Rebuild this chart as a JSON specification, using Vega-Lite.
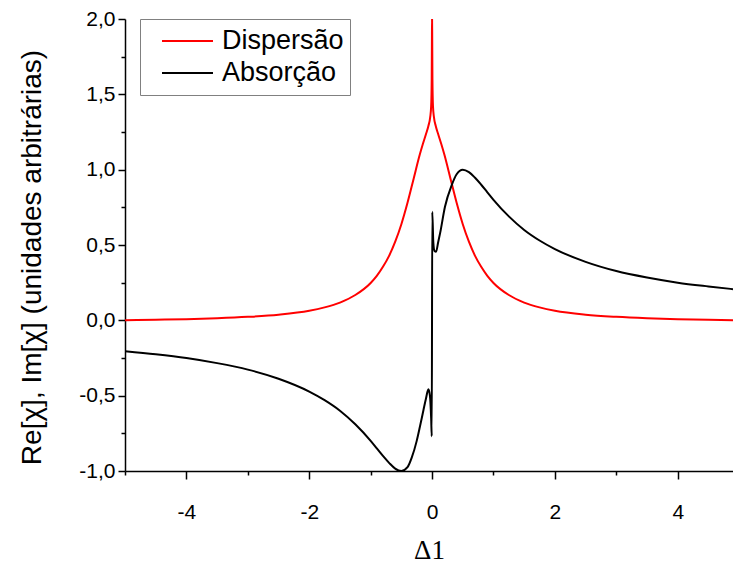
{
  "$schema": "https://vega.github.io/schema/vega-lite/v6.json",
  "width": 608,
  "height": 452,
  "autosize": {"type": "none"},
  "padding": {"left": 125, "top": 19, "right": 0, "bottom": 99},
  "background": "white",
  "config": {
    "view": {"stroke": null},
    "font": "Liberation Sans"
  },
  "data": {
    "values": [
      {"x": -5, "y": 0.001, "s": "Dispersão"},
      {"x": -4.5, "y": 0.004, "s": "Dispersão"},
      {"x": -4, "y": 0.008, "s": "Dispersão"},
      {"x": -3.5, "y": 0.014, "s": "Dispersão"},
      {"x": -3, "y": 0.023, "s": "Dispersão"},
      {"x": -2.5, "y": 0.037, "s": "Dispersão"},
      {"x": -2, "y": 0.063, "s": "Dispersão"},
      {"x": -1.75, "y": 0.086, "s": "Dispersão"},
      {"x": -1.5, "y": 0.118, "s": "Dispersão"},
      {"x": -1.25, "y": 0.168, "s": "Dispersão"},
      {"x": -1, "y": 0.248, "s": "Dispersão"},
      {"x": -0.9, "y": 0.295, "s": "Dispersão"},
      {"x": -0.8, "y": 0.355, "s": "Dispersão"},
      {"x": -0.7, "y": 0.428, "s": "Dispersão"},
      {"x": -0.6, "y": 0.522, "s": "Dispersão"},
      {"x": -0.5, "y": 0.638, "s": "Dispersão"},
      {"x": -0.4, "y": 0.78, "s": "Dispersão"},
      {"x": -0.3, "y": 0.94, "s": "Dispersão"},
      {"x": -0.2, "y": 1.10, "s": "Dispersão"},
      {"x": -0.15, "y": 1.17, "s": "Dispersão"},
      {"x": -0.1, "y": 1.235, "s": "Dispersão"},
      {"x": -0.06, "y": 1.29, "s": "Dispersão"},
      {"x": -0.03, "y": 1.35, "s": "Dispersão"},
      {"x": -0.015, "y": 1.42, "s": "Dispersão"},
      {"x": -0.006, "y": 1.6, "s": "Dispersão"},
      {"x": -0.002, "y": 1.9, "s": "Dispersão"},
      {"x": 0, "y": 2.0, "s": "Dispersão"},
      {"x": 0.002, "y": 1.9, "s": "Dispersão"},
      {"x": 0.006, "y": 1.6, "s": "Dispersão"},
      {"x": 0.015, "y": 1.42, "s": "Dispersão"},
      {"x": 0.03, "y": 1.35, "s": "Dispersão"},
      {"x": 0.06, "y": 1.29, "s": "Dispersão"},
      {"x": 0.1, "y": 1.235, "s": "Dispersão"},
      {"x": 0.15, "y": 1.17, "s": "Dispersão"},
      {"x": 0.2, "y": 1.10, "s": "Dispersão"},
      {"x": 0.3, "y": 0.94, "s": "Dispersão"},
      {"x": 0.4, "y": 0.78, "s": "Dispersão"},
      {"x": 0.5, "y": 0.638, "s": "Dispersão"},
      {"x": 0.6, "y": 0.522, "s": "Dispersão"},
      {"x": 0.7, "y": 0.428, "s": "Dispersão"},
      {"x": 0.8, "y": 0.355, "s": "Dispersão"},
      {"x": 0.9, "y": 0.295, "s": "Dispersão"},
      {"x": 1, "y": 0.248, "s": "Dispersão"},
      {"x": 1.25, "y": 0.168, "s": "Dispersão"},
      {"x": 1.5, "y": 0.118, "s": "Dispersão"},
      {"x": 1.75, "y": 0.086, "s": "Dispersão"},
      {"x": 2, "y": 0.063, "s": "Dispersão"},
      {"x": 2.5, "y": 0.037, "s": "Dispersão"},
      {"x": 3, "y": 0.023, "s": "Dispersão"},
      {"x": 3.5, "y": 0.014, "s": "Dispersão"},
      {"x": 4, "y": 0.008, "s": "Dispersão"},
      {"x": 4.5, "y": 0.004, "s": "Dispersão"},
      {"x": 4.9, "y": 0.001, "s": "Dispersão"},
      {"x": -5, "y": -0.205, "s": "Absorção"},
      {"x": -4.5, "y": -0.225, "s": "Absorção"},
      {"x": -4, "y": -0.25, "s": "Absorção"},
      {"x": -3.5, "y": -0.284, "s": "Absorção"},
      {"x": -3, "y": -0.327, "s": "Absorção"},
      {"x": -2.5, "y": -0.388, "s": "Absorção"},
      {"x": -2, "y": -0.473, "s": "Absorção"},
      {"x": -1.75, "y": -0.53, "s": "Absorção"},
      {"x": -1.5, "y": -0.60, "s": "Absorção"},
      {"x": -1.25, "y": -0.69, "s": "Absorção"},
      {"x": -1, "y": -0.80, "s": "Absorção"},
      {"x": -0.9, "y": -0.85, "s": "Absorção"},
      {"x": -0.8, "y": -0.90, "s": "Absorção"},
      {"x": -0.7, "y": -0.946, "s": "Absorção"},
      {"x": -0.6, "y": -0.984, "s": "Absorção"},
      {"x": -0.5, "y": -1.0, "s": "Absorção"},
      {"x": -0.4, "y": -0.975, "s": "Absorção"},
      {"x": -0.33, "y": -0.91, "s": "Absorção"},
      {"x": -0.25, "y": -0.80, "s": "Absorção"},
      {"x": -0.2, "y": -0.71, "s": "Absorção"},
      {"x": -0.14, "y": -0.595, "s": "Absorção"},
      {"x": -0.1, "y": -0.52, "s": "Absorção"},
      {"x": -0.06, "y": -0.458, "s": "Absorção"},
      {"x": -0.035, "y": -0.5, "s": "Absorção"},
      {"x": -0.015, "y": -0.65, "s": "Absorção"},
      {"x": -0.005, "y": -0.77, "s": "Absorção"},
      {"x": 0.003, "y": 0.72, "s": "Absorção"},
      {"x": 0.02, "y": 0.52, "s": "Absorção"},
      {"x": 0.04, "y": 0.46, "s": "Absorção"},
      {"x": 0.065, "y": 0.455, "s": "Absorção"},
      {"x": 0.1, "y": 0.52, "s": "Absorção"},
      {"x": 0.13, "y": 0.577, "s": "Absorção"},
      {"x": 0.21, "y": 0.754, "s": "Absorção"},
      {"x": 0.32, "y": 0.898, "s": "Absorção"},
      {"x": 0.4, "y": 0.97, "s": "Absorção"},
      {"x": 0.5, "y": 1.0, "s": "Absorção"},
      {"x": 0.6, "y": 0.984, "s": "Absorção"},
      {"x": 0.7, "y": 0.946, "s": "Absorção"},
      {"x": 0.8, "y": 0.90, "s": "Absorção"},
      {"x": 0.9, "y": 0.85, "s": "Absorção"},
      {"x": 1, "y": 0.80, "s": "Absorção"},
      {"x": 1.25, "y": 0.69, "s": "Absorção"},
      {"x": 1.5, "y": 0.60, "s": "Absorção"},
      {"x": 1.75, "y": 0.53, "s": "Absorção"},
      {"x": 2, "y": 0.473, "s": "Absorção"},
      {"x": 2.5, "y": 0.388, "s": "Absorção"},
      {"x": 3, "y": 0.327, "s": "Absorção"},
      {"x": 3.5, "y": 0.284, "s": "Absorção"},
      {"x": 4, "y": 0.25, "s": "Absorção"},
      {"x": 4.5, "y": 0.225, "s": "Absorção"},
      {"x": 4.9, "y": 0.207, "s": "Absorção"}
    ]
  },
  "mark": {"type": "line", "strokeWidth": 2, "interpolate": "monotone", "clip": true},
  "encoding": {
    "x": {
      "field": "x",
      "type": "quantitative",
      "scale": {"domain": [-5, 4.9], "nice": false, "zero": false},
      "axis": {
        "title": "Δ1",
        "titleFont": "Liberation Serif",
        "titleFontSize": 27,
        "titleFontWeight": "normal",
        "titleColor": "black",
        "titlePadding": 15,
        "values": [-5, -4, -3, -2, -1, 0, 1, 2, 3, 4],
        "labelExpr": "datum.value % 2 === 0 ? replace(format(datum.value, 'd'), '−', '-') : ''",
        "labelFontSize": 21,
        "labelColor": "black",
        "labelPadding": 22,
        "labelFlush": false,
        "labelOverlap": false,
        "tickSize": {"condition": {"test": "datum.value % 2 !== 0", "value": 4}, "value": 8},
        "tickColor": "black",
        "tickWidth": 1.5,
        "domainColor": "black",
        "domainWidth": 1.5,
        "grid": false
      }
    },
    "y": {
      "field": "y",
      "type": "quantitative",
      "scale": {"domain": [-1, 2], "nice": false, "zero": false},
      "axis": {
        "title": "Re[χ], Im[χ] (unidades arbitrárias)",
        "titleFont": "Liberation Sans",
        "titleFontSize": 28,
        "titleFontWeight": "normal",
        "titleColor": "black",
        "titlePadding": 32,
        "titleY": 238,
        "values": [-1, -0.75, -0.5, -0.25, 0, 0.25, 0.5, 0.75, 1, 1.25, 1.5, 1.75, 2],
        "labelExpr": "abs(datum.value * 2 - round(datum.value * 2)) < 0.01 ? replace(replace(format(datum.value, '.1f'), '.', ','), '−', '-') : ''",
        "labelFontSize": 21,
        "labelColor": "black",
        "labelPadding": 3,
        "labelFlush": false,
        "labelOverlap": false,
        "tickSize": {"condition": {"test": "abs(datum.value * 2 - round(datum.value * 2)) > 0.01", "value": 4}, "value": 7},
        "tickColor": "black",
        "tickWidth": 1.5,
        "domainColor": "black",
        "domainWidth": 1.5,
        "grid": false
      }
    },
    "color": {
      "field": "s",
      "type": "nominal",
      "scale": {"domain": ["Dispersão", "Absorção"], "range": ["#ff0000", "#000000"]},
      "legend": {
        "title": null,
        "orient": "none",
        "legendX": 15,
        "legendY": 0,
        "symbolType": "stroke",
        "symbolSize": 2600,
        "symbolStrokeWidth": 2,
        "symbolOffset": 15,
        "labelFontSize": 27,
        "labelColor": "black",
        "labelOffset": 8,
        "padding": 6,
        "strokeColor": "#808080",
        "fillColor": "white",
        "clipHeight": 32,
        "rowPadding": 0
      }
    }
  }
}
